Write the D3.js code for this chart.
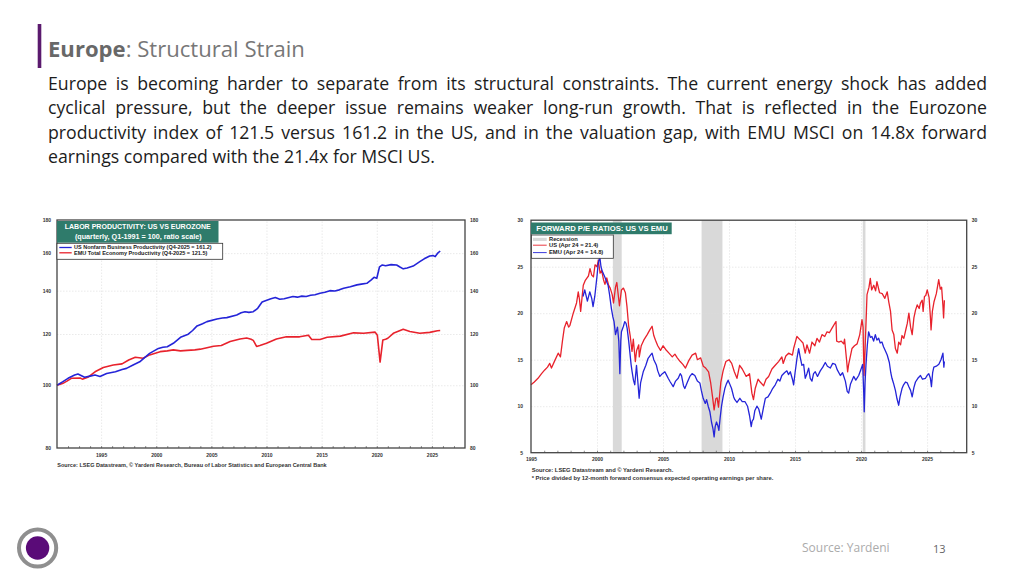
<!DOCTYPE html>
<html><head><meta charset="utf-8">
<script src="https://cdn.jsdelivr.net/npm/d3@7"></script>
<style>html,body{margin:0;padding:0;background:#fff;}svg{display:block;}</style>
</head><body>
<svg id="c" width="1024" height="576"></svg>
<script>
// ---------- DATA ----------
const paragraphLines = [
  "Europe is becoming harder to separate from its structural constraints. The current energy shock has added",
  "cyclical pressure, but the deeper issue remains weaker long-run growth. That is reflected in the Eurozone",
  "productivity index of 121.5 versus 161.2 in the US, and in the valuation gap, with EMU MSCI on 14.8x forward",
  "earnings compared with the 21.4x for MSCI US."
];
const yearTicks = [1995, 2000, 2005, 2010, 2015, 2020, 2025];
const prodYTicks = [80, 100, 120, 140, 160, 180];
const peYTicks = [5, 10, 15, 20, 25, 30];

const usProdYears = [1991.0,1991.5,1992.0,1992.6,1992.9,1993.5,1994.0,1994.45,1994.9,1995.5,1996.3,1996.9,1997.3,1997.9,1998.5,1999.0,1999.4,2000.2,2000.6,2001.0,2001.55,2002.2,2002.9,2003.3,2003.7,2004.2,2004.6,2005.5,2006.0,2006.4,2007.3,2007.7,2008.05,2008.4,2008.8,2009.2,2009.6,2009.9,2010.4,2010.8,2011.2,2011.6,2012.4,2012.8,2013.2,2013.6,2014.0,2014.4,2014.85,2015.3,2015.75,2016.2,2016.6,2017.0,2017.6,2018.2,2018.6,2019.1,2019.5,2019.75,2020.0,2020.25,2020.5,2020.8,2021.3,2021.8,2022.1,2022.4,2022.75,2023.3,2023.6,2023.9,2024.3,2024.8,2025.1,2025.3,2025.5,2025.75];
const usProd = [100,101.2,102.5,103.7,104.1,102.9,103.3,103.7,103.2,104.3,104.9,105.8,106.2,107.5,108.7,110.5,112.0,114.0,114.5,114.7,116.1,118.6,119.9,121.5,123.5,124.5,125.4,126.6,127.0,127.2,128.4,129.4,129.9,129.6,129.9,131.5,134.5,135.1,136.0,136.6,135.8,136.0,137.1,136.8,137.3,137.1,137.7,138.0,138.7,139.2,140.0,139.8,140.4,141.2,142.0,142.9,143.3,143.7,145.5,146.8,146.3,152.4,153.4,153.0,153.6,153.4,152.3,151.3,151.8,152.8,154.0,155.2,156.8,158.4,158.6,158.0,159.8,161.2];

const emuProdYears = [1991.0,1991.5,1991.9,1992.3,1993.1,1993.3,1993.85,1994.45,1995.2,1996.1,1996.9,1997.5,1998.1,1998.8,1999.4,2000.35,2001.0,2001.55,2002.2,2002.8,2003.5,2004.0,2004.6,2005.2,2005.9,2006.7,2007.6,2008.2,2008.6,2008.8,2009.1,2009.4,2010.0,2010.9,2011.8,2013.0,2013.8,2014.1,2014.85,2015.5,2016.7,2017.9,2018.8,2019.85,2020.05,2020.3,2020.55,2020.8,2021.0,2021.5,2022.4,2023.0,2023.9,2024.8,2025.5,2025.75];
const emuProd = [100,100.6,101.5,102.5,102.6,102.2,103.0,104.9,106.5,107.5,107.9,109.4,110.5,110.1,111.4,112.7,113.0,113.4,113.0,113.2,113.4,113.7,114.3,114.9,115.2,116.8,117.9,118.3,117.8,117.3,114.8,115.2,116.1,117.9,118.8,118.8,119.5,117.7,117.7,118.6,119.1,120.5,120.3,120.8,119.5,108.6,117.5,117.8,118.2,120.3,122.0,121.1,120.3,120.7,121.4,121.5];

const peUSYears = [1995.0,1995.25,1995.53,1995.8,1996.04,1996.25,1996.42,1996.55,1996.8,1997.06,1997.23,1997.39,1997.52,1997.7,1997.85,1997.95,1998.2,1998.45,1998.58,1998.67,1998.76,1998.96,1999.1,1999.22,1999.35,1999.47,1999.6,1999.73,1999.85,2000.0,2000.1,2000.23,2000.35,2000.49,2000.6,2000.74,2000.88,2001.0,2001.15,2001.25,2001.4,2001.5,2001.7,2001.85,2002.0,2002.15,2002.27,2002.39,2002.52,2002.65,2002.75,2002.9,2003.0,2003.16,2003.2,2003.35,2003.54,2003.8,2004.0,2004.17,2004.3,2004.43,2004.6,2004.81,2005.0,2005.2,2005.45,2005.7,2005.9,2006.08,2006.3,2006.5,2006.7,2006.95,2007.2,2007.47,2007.6,2007.85,2008.05,2008.23,2008.45,2008.6,2008.75,2008.87,2009.0,2009.1,2009.2,2009.38,2009.55,2009.76,2010.0,2010.2,2010.4,2010.6,2010.8,2011.0,2011.3,2011.55,2011.73,2011.85,2011.98,2012.2,2012.36,2012.62,2012.8,2013.0,2013.25,2013.5,2013.75,2014.0,2014.1,2014.3,2014.51,2014.8,2014.89,2015.14,2015.4,2015.6,2015.77,2015.9,2016.1,2016.28,2016.5,2016.66,2016.85,2017.04,2017.25,2017.42,2017.6,2017.8,2018.05,2018.1,2018.15,2018.3,2018.5,2018.68,2018.75,2018.9,2018.98,2019.06,2019.31,2019.5,2019.7,2019.9,2020.07,2020.15,2020.22,2020.3,2020.45,2020.6,2020.7,2020.8,2020.96,2021.1,2021.2,2021.4,2021.6,2021.8,2021.98,2022.1,2022.23,2022.35,2022.48,2022.6,2022.74,2022.85,2022.99,2023.1,2023.24,2023.4,2023.5,2023.62,2023.75,2023.87,2024.0,2024.12,2024.25,2024.4,2024.5,2024.63,2024.7,2024.8,2024.9,2025.01,2025.15,2025.25,2025.3,2025.4,2025.52,2025.7,2025.88,2026.0,2026.1,2026.2,2026.25,2026.31];
const peUS = [12.3,12.6,13.0,13.5,13.9,14.2,14.6,14.1,14.9,15.7,15.3,17.1,18.4,19.1,18.5,18.7,20.0,21.1,22.3,21.5,20.2,23.0,23.5,23.75,24.0,24.8,24.1,23.9,25.2,25.0,25.7,24.3,24.6,23.6,23.1,23.8,23.0,22.7,22.0,21.1,22.8,23.3,20.8,22.5,22.7,22.2,20.7,18.7,17.5,15.9,17.2,14.8,16.0,16.6,15.3,16.5,17.1,17.7,18.2,18.6,17.6,17.1,16.5,16.0,16.5,16.1,15.7,15.3,15.6,15.2,14.8,14.5,14.1,14.9,15.5,15.7,15.0,15.2,14.3,14.1,13.7,12.6,11.0,9.6,10.8,10.9,9.9,12.6,13.8,14.8,15.0,14.6,13.7,13.0,14.4,14.0,13.2,13.5,11.4,10.7,11.9,12.9,12.6,12.2,12.9,13.2,14.0,14.4,14.8,15.3,14.6,15.4,15.7,15.5,16.2,17.5,17.1,16.8,15.7,16.6,15.7,16.9,16.5,17.3,16.9,17.7,17.5,18.0,17.9,18.4,19.0,19.1,17.0,16.9,17.0,16.7,17.2,15.0,13.7,14.5,16.2,16.5,16.7,17.7,19.3,18.5,13.3,16.0,22.0,22.8,23.75,22.5,23.0,22.4,23.4,22.2,22.1,21.6,22.3,21.2,20.2,18.2,17.7,16.2,15.7,16.9,16.6,17.6,17.3,18.3,18.9,20.0,18.5,17.7,19.5,20.3,20.9,20.5,21.1,21.4,20.2,21.8,21.9,22.5,21.7,19.6,18.2,20.2,21.2,22.1,23.6,22.6,22.8,20.8,19.5,21.4];

const peEMUYears = [1998.94,1999.07,1999.27,1999.45,1999.6,1999.7,1999.83,2000.0,2000.08,2000.21,2000.3,2000.38,2000.5,2000.59,2000.7,2000.84,2000.95,2001.09,2001.2,2001.29,2001.4,2001.55,2001.65,2001.73,2001.8,2001.85,2002.0,2002.1,2002.2,2002.28,2002.4,2002.48,2002.58,2002.66,2002.76,2002.86,2002.99,2003.1,2003.19,2003.3,2003.5,2003.7,2003.87,2004.05,2004.17,2004.3,2004.5,2004.6,2004.76,2004.95,2005.14,2005.25,2005.39,2005.55,2005.77,2005.95,2006.15,2006.3,2006.4,2006.55,2006.65,2006.85,2007.03,2007.2,2007.41,2007.6,2007.79,2007.9,2008.04,2008.2,2008.3,2008.42,2008.55,2008.67,2008.78,2008.87,2008.95,2009.05,2009.15,2009.23,2009.33,2009.43,2009.55,2009.68,2009.8,2009.93,2010.05,2010.19,2010.35,2010.44,2010.6,2010.82,2011.0,2011.2,2011.4,2011.55,2011.68,2011.75,2011.85,2011.95,2012.11,2012.25,2012.44,2012.6,2012.75,2012.95,2013.12,2013.3,2013.5,2013.7,2013.85,2014.0,2014.2,2014.38,2014.5,2014.64,2014.8,2014.89,2015.0,2015.15,2015.27,2015.4,2015.52,2015.65,2015.77,2015.9,2016.03,2016.15,2016.28,2016.4,2016.53,2016.7,2016.91,2017.1,2017.29,2017.45,2017.67,2017.85,2018.05,2018.2,2018.43,2018.6,2018.81,2018.95,2019.06,2019.2,2019.44,2019.6,2019.82,2020.0,2020.12,2020.2,2020.24,2020.3,2020.37,2020.47,2020.57,2020.7,2020.82,2020.95,2021.08,2021.2,2021.33,2021.45,2021.58,2021.7,2021.83,2021.98,2022.14,2022.25,2022.34,2022.45,2022.6,2022.72,2022.85,2022.95,2023.1,2023.22,2023.36,2023.5,2023.62,2023.75,2023.87,2024.0,2024.12,2024.3,2024.5,2024.65,2024.88,2025.0,2025.13,2025.25,2025.33,2025.42,2025.51,2025.7,2025.89,2026.05,2026.2,2026.27,2026.31];
const peEMU = [21.8,22.5,21.3,22.3,21.6,20.7,21.8,24.0,25.2,26.1,25.0,24.6,24.2,23.9,23.5,23.0,22.0,20.5,19.6,19.1,17.7,18.5,17.0,13.5,17.0,18.0,18.6,19.1,18.9,18.4,17.0,15.9,14.5,13.7,12.8,12.3,14.4,12.5,10.85,12.5,13.7,14.4,15.15,15.5,15.7,15.0,14.4,13.8,13.2,13.5,13.7,13.4,13.0,12.6,12.1,12.7,13.0,13.5,13.3,12.2,11.9,12.6,13.2,13.5,13.3,12.7,12.5,11.7,10.85,10.3,10.7,10.0,9.4,8.3,7.6,6.7,7.8,8.3,7.9,7.4,8.8,10.0,11.0,11.9,12.4,12.8,12.4,11.9,11.0,10.7,10.4,10.85,10.5,10.5,10.0,9.0,7.8,8.4,8.6,9.5,10.0,9.7,8.6,9.8,10.85,11.0,11.4,11.9,12.3,12.9,12.7,13.3,13.6,13.8,13.4,13.7,12.9,12.3,13.6,15.2,16.2,15.2,14.4,14.5,13.0,13.5,14.1,13.0,12.7,13.5,13.7,13.2,13.8,14.2,14.7,14.3,14.1,14.6,14.5,13.9,13.3,13.6,12.7,11.6,11.4,12.4,13.2,12.8,13.3,14.0,14.5,11.5,9.4,12.5,14.4,16.5,18.0,17.4,17.5,17.0,17.7,17.1,17.3,16.8,16.9,16.4,16.0,15.5,14.7,13.6,13.0,12.5,11.7,10.8,10.1,11.0,11.9,12.3,12.6,12.5,12.1,11.7,11.0,12.0,12.6,13.0,13.3,12.9,13.0,13.3,13.5,13.0,12.1,13.6,14.2,14.3,14.5,15.0,15.7,14.2,14.8];

const recessions = [[2001.2, 2001.87], [2007.92, 2009.5], [2020.13, 2020.33]];

// ---------- DRAW ----------
const svg = d3.select("#c");
const CF = "'Liberation Sans', Arial, sans-serif";
const TEAL = "#2f7b6b", BLUE = "#2424d8", RED = "#e8222c";

// Header
const title = svg.append("text").attr("x", 48).attr("y", 57).style("font-family","'Open Sans',sans-serif").style("font-size","21px");
title.append("tspan").text("Europe").attr("font-weight","700").attr("fill","#686868");
title.append("tspan").text(": Structural Strain").attr("fill","#777");
(function(){ const w = title.node().getComputedTextLength(); const fs = 21*257/w; title.style("font-size", fs+"px"); })();
svg.append("rect").attr("x",37.7).attr("y",24).attr("width",3.6).attr("height",44).attr("fill","#5b1a6e");

// Paragraph
const pBase = [89.7, 114.1, 138.5, 163];
const pts = paragraphLines.map((t,i)=> svg.append("text").attr("x",48).attr("y",pBase[i]).text(t)
   .style("font-family","'Open Sans',sans-serif").style("font-size","16px").attr("fill","#1c1c1c"));
(function(){
  const w4 = pts[3].node().getComputedTextLength();
  const fs = 16*387/w4;
  pts.forEach(p=>p.style("font-size", fs+"px"));
  for (let i=0;i<3;i++){
    const w = pts[i].node().getComputedTextLength();
    const n = (paragraphLines[i].match(/ /g)||[]).length;
    pts[i].attr("word-spacing", ((939 - w)/n) + "px");
  }
})();

function fitText(sel, width){ sel.attr("textLength", width).attr("lengthAdjust","spacingAndGlyphs"); return sel; }

// ---------- LEFT CHART ----------
const L = {x0:57, x1:465, y0:220, y1:448};
const xL = d3.scaleLinear().domain([1991, 2028]).range([L.x0, L.x1]);
const yL = d3.scaleLog().domain([80, 180]).range([L.y1, L.y0]);
const gl = svg.append("g");

gl.append("g").attr("transform",`translate(0,${L.y1})`)
  .call(d3.axisBottom(xL).tickValues(yearTicks).tickSize(-(L.y1-L.y0)).tickFormat(""))
  .call(g=>{g.select(".domain").remove(); g.selectAll("line").attr("stroke","#dcdcdc").attr("stroke-width",0.6).attr("stroke-dasharray","1.5,1.5");});
gl.append("g").attr("transform",`translate(${L.x0},0)`)
  .call(d3.axisLeft(yL).tickValues(prodYTicks.slice(1,-1)).tickSize(-(L.x1-L.x0)).tickFormat(""))
  .call(g=>{g.select(".domain").remove(); g.selectAll("line").attr("stroke","#dcdcdc").attr("stroke-width",0.6).attr("stroke-dasharray","1.5,1.5");});

const lineL = (xs)=> d3.line().x((d,i)=>xL(xs[i])).y(d=>yL(d));
gl.append("path").datum(emuProd).attr("d", lineL(emuProdYears)).attr("fill","none").attr("stroke",RED).attr("stroke-width",1.6).attr("stroke-linejoin","round");
gl.append("path").datum(usProd).attr("d", lineL(usProdYears)).attr("fill","none").attr("stroke",BLUE).attr("stroke-width",1.6).attr("stroke-linejoin","round");

gl.append("rect").attr("x",L.x0).attr("y",L.y0).attr("width",L.x1-L.x0).attr("height",L.y1-L.y0).attr("fill","none").attr("stroke","#444").attr("stroke-width",1.3);
gl.append("g").attr("transform",`translate(0,${L.y1})`)
  .call(d3.axisBottom(xL).tickValues(d3.range(1992,2028)).tickSize(-2).tickFormat(""))
  .call(g=>{g.select(".domain").remove(); g.selectAll("line").attr("stroke","#444").attr("stroke-width",0.6);});

gl.append("g").attr("transform",`translate(0,${L.y1+5})`)
  .call(d3.axisBottom(xL).tickValues(yearTicks).tickSize(0).tickPadding(0).tickFormat(d3.format("d")))
  .call(g=>{g.select(".domain").remove(); g.selectAll("text").attr("dy","0.7em").style("font-family",CF).style("font-size","5px").style("font-weight","700").attr("fill","#333");});
gl.append("g").attr("transform",`translate(${L.x0-6},0)`)
  .call(d3.axisLeft(yL).tickValues(prodYTicks).tickSize(0).tickPadding(0).tickFormat(d3.format("d")))
  .call(g=>{g.select(".domain").remove(); g.selectAll("text").style("font-family",CF).style("font-size","5px").style("font-weight","700").attr("fill","#333");});
gl.append("g").attr("transform",`translate(${L.x1+5},0)`)
  .call(d3.axisRight(yL).tickValues(prodYTicks).tickSize(0).tickPadding(0).tickFormat(d3.format("d")))
  .call(g=>{g.select(".domain").remove(); g.selectAll("text").style("font-family",CF).style("font-size","5px").style("font-weight","700").attr("fill","#333");});

gl.append("rect").attr("x",57).attr("y",221).attr("width",161.5).attr("height",21.7).attr("fill",TEAL);
fitText(gl.append("text").attr("x",137.7).attr("y",229.3).attr("text-anchor","middle").text("LABOR PRODUCTIVITY: US VS EUROZONE")
  .style("font-family",CF).style("font-size","6.6px").style("font-weight","700").attr("fill","#fff"),146);
fitText(gl.append("text").attr("x",138.3).attr("y",238.6).attr("text-anchor","middle").text("(quarterly, Q1-1991 = 100, ratio scale)")
  .style("font-family",CF).style("font-size","6.3px").style("font-weight","700").attr("fill","#fff"),126.7);
gl.append("rect").attr("x",57).attr("y",243.3).attr("width",165.7).attr("height",16).attr("fill","#fff").attr("stroke","#333").attr("stroke-width",0.8);
const legL = [["US Nonfarm Business Productivity (Q4-2025 = 161.2)", BLUE, 247.5, 137.7],["EMU Total Economy Productivity (Q4-2025 = 121.5)", RED, 252.8, 133.3]];
legL.forEach(([t,c,y,w])=>{
  gl.append("line").attr("x1",59.3).attr("x2",71.7).attr("y1",y).attr("y2",y).attr("stroke",c).attr("stroke-width",1.3);
  fitText(gl.append("text").attr("x",74).attr("y",y+1.7).text(t).style("font-family",CF).style("font-size","5px").style("font-weight","700").attr("fill","#222"),w);
});
fitText(gl.append("text").attr("x",57.3).attr("y",466.8).text("Source: LSEG Datastream, \u00A9 Yardeni Research, Bureau of Labor Statistics and European Central Bank")
  .style("font-family",CF).style("font-size","5px").style("font-weight","700").attr("fill","#333"),269.4);

// ---------- RIGHT CHART ----------
const R = {x0:531, x1:966.7, y0:220.2, y1:452.7};
const xR = d3.scaleLinear().domain([1995, 2028]).range([R.x0, R.x1]);
const yR = d3.scaleLinear().domain([5, 30]).range([R.y1, R.y0]);
const gr = svg.append("g");

gr.selectAll("rect.rec").data(recessions).join("rect").attr("class","rec")
  .attr("x",d=>xR(d[0])).attr("width",d=>xR(d[1])-xR(d[0])).attr("y",R.y0).attr("height",R.y1-R.y0).attr("fill","#d9d9d9");

gr.append("g").attr("transform",`translate(0,${R.y1})`)
  .call(d3.axisBottom(xR).tickValues(yearTicks.slice(1)).tickSize(-(R.y1-R.y0)).tickFormat(""))
  .call(g=>{g.select(".domain").remove(); g.selectAll("line").attr("stroke","#dcdcdc").attr("stroke-width",0.6).attr("stroke-dasharray","1.5,1.5");});
gr.append("g").attr("transform",`translate(${R.x0},0)`)
  .call(d3.axisLeft(yR).tickValues(peYTicks.slice(1,-1)).tickSize(-(R.x1-R.x0)).tickFormat(""))
  .call(g=>{g.select(".domain").remove(); g.selectAll("line").attr("stroke","#dcdcdc").attr("stroke-width",0.6).attr("stroke-dasharray","1.5,1.5");});

const lineR = (xs)=> d3.line().x((d,i)=>xR(xs[i])).y(d=>yR(d));
gr.append("path").datum(peUS).attr("d", lineR(peUSYears)).attr("fill","none").attr("stroke",RED).attr("stroke-width",1.3).attr("stroke-linejoin","round");
gr.append("path").datum(peEMU).attr("d", lineR(peEMUYears)).attr("fill","none").attr("stroke",BLUE).attr("stroke-width",1.3).attr("stroke-linejoin","round");

gr.append("rect").attr("x",R.x0).attr("y",R.y0).attr("width",R.x1-R.x0).attr("height",R.y1-R.y0).attr("fill","none").attr("stroke","#444").attr("stroke-width",1.3);
gr.append("g").attr("transform",`translate(0,${R.y1})`)
  .call(d3.axisBottom(xR).tickValues(d3.range(1996,2028)).tickSize(-2).tickFormat(""))
  .call(g=>{g.select(".domain").remove(); g.selectAll("line").attr("stroke","#444").attr("stroke-width",0.6);});

gr.append("g").attr("transform",`translate(0,${R.y1+5})`)
  .call(d3.axisBottom(xR).tickValues(yearTicks).tickSize(0).tickPadding(0).tickFormat(d3.format("d")))
  .call(g=>{g.select(".domain").remove(); g.selectAll("text").attr("dy","0.7em").style("font-family",CF).style("font-size","5px").style("font-weight","700").attr("fill","#333");});
gr.append("g").attr("transform",`translate(${R.x0-8},0)`)
  .call(d3.axisLeft(yR).tickValues(peYTicks).tickSize(0).tickPadding(0).tickFormat(d3.format("d")))
  .call(g=>{g.select(".domain").remove(); g.selectAll("text").style("font-family",CF).style("font-size","5px").style("font-weight","700").attr("fill","#333");});
gr.append("g").attr("transform",`translate(${R.x1+5},0)`)
  .call(d3.axisRight(yR).tickValues(peYTicks).tickSize(0).tickPadding(0).tickFormat(d3.format("d")))
  .call(g=>{g.select(".domain").remove(); g.selectAll("text").style("font-family",CF).style("font-size","5px").style("font-weight","700").attr("fill","#333");});

gr.append("rect").attr("x",531).attr("y",222.5).attr("width",140.7).attr("height",11.7).attr("fill",TEAL);
fitText(gr.append("text").attr("x",602).attr("y",230.8).attr("text-anchor","middle").text("FORWARD P/E RATIOS: US VS EMU")
  .style("font-family",CF).style("font-size","7px").style("font-weight","700").attr("fill","#fff"),131.6);
gr.append("rect").attr("x",531.5).attr("y",235).attr("width",81.8).attr("height",23.3).attr("fill","#fff").attr("stroke","#333").attr("stroke-width",0.8);
gr.append("rect").attr("x",533).attr("y",237.8).attr("width",13.7).attr("height",3.2).attr("fill","#d9d9d9");
const legR = [["Recession", null, 239.4, 28.7],["US (Apr 24 = 21.4)", RED, 245.2, 49.3],["EMU (Apr 24 = 14.8)", BLUE, 252.6, 54.3]];
legR.forEach(([t,c,y,w])=>{
  if (c) gr.append("line").attr("x1",533).attr("x2",546.7).attr("y1",y).attr("y2",y).attr("stroke",c).attr("stroke-width",0.9);
  fitText(gr.append("text").attr("x",549).attr("y",y+1.8).text(t).style("font-family",CF).style("font-size","5.3px").style("font-weight","700").attr("fill","#222"),w);
});
fitText(gr.append("text").attr("x",531.7).attr("y",471.8).text("Source: LSEG Datastream and \u00A9 Yardeni Research.")
  .style("font-family",CF).style("font-size","5px").style("font-weight","700").attr("fill","#333"),141.6);
fitText(gr.append("text").attr("x",531.7).attr("y",480.2).text("* Price divided by 12-month forward consensus expected operating earnings per share.")
  .style("font-family",CF).style("font-size","5px").style("font-weight","700").attr("fill","#333"),241.6);

// ---------- FOOTER ----------
svg.append("circle").attr("cx",37.6).attr("cy",548).attr("r",18.6).attr("fill","#fff").attr("stroke","#8f8f8f").attr("stroke-width",4);
svg.append("circle").attr("cx",37.6).attr("cy",548).attr("r",11.7).attr("fill","#5a0b78");
svg.append("text").attr("x",802).attr("y",552).text("Source: Yardeni").style("font-family","'Open Sans',sans-serif").style("font-size","12px").attr("fill","#ababab");
svg.append("text").attr("x",933).attr("y",553).text("13").style("font-family","'Open Sans',sans-serif").style("font-size","11px").attr("fill","#666");
</script>
</body></html>
